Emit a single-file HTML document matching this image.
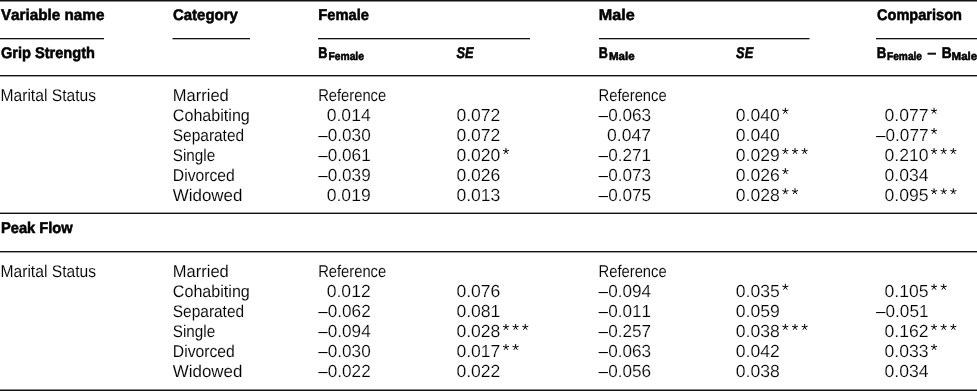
<!DOCTYPE html>
<html><head><meta charset="utf-8"><style>
html,body{margin:0;padding:0;background:#fff;width:977px;height:391px;overflow:hidden}
svg{display:block;will-change:transform}
text{font-family:"Liberation Sans",sans-serif;fill:#000;font-kerning:none}
.r{stroke:#fff;stroke-width:0.08px}
.n{stroke:#fff;stroke-width:0.18px}
.b{font-weight:bold;stroke:#000;stroke-width:0.55px}
.bi{font-weight:bold;font-style:italic;stroke:#000;stroke-width:0.55px}
rect{fill:#111}
</style></head><body>
<svg width="977" height="391" viewBox="0 0 977 391" shape-rendering="geometricPrecision" text-rendering="geometricPrecision">
<rect x="0" y="0" width="977" height="1.5"/>
<rect x="0" y="38" width="104" height="1.3"/>
<rect x="172.5" y="38" width="77.5" height="1.3"/>
<rect x="318" y="38" width="212" height="1.3"/>
<rect x="599" y="38" width="210.5" height="1.3"/>
<rect x="876" y="38" width="101" height="1.3"/>
<rect x="0" y="75" width="977" height="1.4"/>
<rect x="0" y="212.6" width="977" height="1.4"/>
<rect x="0" y="251" width="977" height="1.4"/>
<rect x="0" y="389.5" width="977" height="1.5"/>
<rect x="927.5" y="52.7" width="8.5" height="2.0"/>
<g fill="none" stroke="#000" stroke-width="1.0" stroke-linecap="round">
<path transform="translate(785.35 111.02)" d="M0 0L0.00 -2.80 M0 0L2.66 -0.87 M0 0L1.65 2.27 M0 0L-1.65 2.27 M0 0L-2.66 -0.87"/>
<path transform="translate(934.05 111.02)" d="M0 0L0.00 -2.80 M0 0L2.66 -0.87 M0 0L1.65 2.27 M0 0L-1.65 2.27 M0 0L-2.66 -0.87"/>
<path transform="translate(934.05 131.14)" d="M0 0L0.00 -2.80 M0 0L2.66 -0.87 M0 0L1.65 2.27 M0 0L-1.65 2.27 M0 0L-2.66 -0.87"/>
<path transform="translate(505.95 151.26)" d="M0 0L0.00 -2.80 M0 0L2.66 -0.87 M0 0L1.65 2.27 M0 0L-1.65 2.27 M0 0L-2.66 -0.87"/>
<path transform="translate(785.35 151.26)" d="M0 0L0.00 -2.80 M0 0L2.66 -0.87 M0 0L1.65 2.27 M0 0L-1.65 2.27 M0 0L-2.66 -0.87"/>
<path transform="translate(795.00 151.26)" d="M0 0L0.00 -2.80 M0 0L2.66 -0.87 M0 0L1.65 2.27 M0 0L-1.65 2.27 M0 0L-2.66 -0.87"/>
<path transform="translate(804.65 151.26)" d="M0 0L0.00 -2.80 M0 0L2.66 -0.87 M0 0L1.65 2.27 M0 0L-1.65 2.27 M0 0L-2.66 -0.87"/>
<path transform="translate(934.05 151.26)" d="M0 0L0.00 -2.80 M0 0L2.66 -0.87 M0 0L1.65 2.27 M0 0L-1.65 2.27 M0 0L-2.66 -0.87"/>
<path transform="translate(943.70 151.26)" d="M0 0L0.00 -2.80 M0 0L2.66 -0.87 M0 0L1.65 2.27 M0 0L-1.65 2.27 M0 0L-2.66 -0.87"/>
<path transform="translate(953.35 151.26)" d="M0 0L0.00 -2.80 M0 0L2.66 -0.87 M0 0L1.65 2.27 M0 0L-1.65 2.27 M0 0L-2.66 -0.87"/>
<path transform="translate(785.35 171.38)" d="M0 0L0.00 -2.80 M0 0L2.66 -0.87 M0 0L1.65 2.27 M0 0L-1.65 2.27 M0 0L-2.66 -0.87"/>
<path transform="translate(785.35 191.50)" d="M0 0L0.00 -2.80 M0 0L2.66 -0.87 M0 0L1.65 2.27 M0 0L-1.65 2.27 M0 0L-2.66 -0.87"/>
<path transform="translate(795.00 191.50)" d="M0 0L0.00 -2.80 M0 0L2.66 -0.87 M0 0L1.65 2.27 M0 0L-1.65 2.27 M0 0L-2.66 -0.87"/>
<path transform="translate(934.05 191.50)" d="M0 0L0.00 -2.80 M0 0L2.66 -0.87 M0 0L1.65 2.27 M0 0L-1.65 2.27 M0 0L-2.66 -0.87"/>
<path transform="translate(943.70 191.50)" d="M0 0L0.00 -2.80 M0 0L2.66 -0.87 M0 0L1.65 2.27 M0 0L-1.65 2.27 M0 0L-2.66 -0.87"/>
<path transform="translate(953.35 191.50)" d="M0 0L0.00 -2.80 M0 0L2.66 -0.87 M0 0L1.65 2.27 M0 0L-1.65 2.27 M0 0L-2.66 -0.87"/>
<path transform="translate(785.35 287.06)" d="M0 0L0.00 -2.80 M0 0L2.66 -0.87 M0 0L1.65 2.27 M0 0L-1.65 2.27 M0 0L-2.66 -0.87"/>
<path transform="translate(934.05 287.06)" d="M0 0L0.00 -2.80 M0 0L2.66 -0.87 M0 0L1.65 2.27 M0 0L-1.65 2.27 M0 0L-2.66 -0.87"/>
<path transform="translate(943.70 287.06)" d="M0 0L0.00 -2.80 M0 0L2.66 -0.87 M0 0L1.65 2.27 M0 0L-1.65 2.27 M0 0L-2.66 -0.87"/>
<path transform="translate(505.95 327.18)" d="M0 0L0.00 -2.80 M0 0L2.66 -0.87 M0 0L1.65 2.27 M0 0L-1.65 2.27 M0 0L-2.66 -0.87"/>
<path transform="translate(515.60 327.18)" d="M0 0L0.00 -2.80 M0 0L2.66 -0.87 M0 0L1.65 2.27 M0 0L-1.65 2.27 M0 0L-2.66 -0.87"/>
<path transform="translate(525.25 327.18)" d="M0 0L0.00 -2.80 M0 0L2.66 -0.87 M0 0L1.65 2.27 M0 0L-1.65 2.27 M0 0L-2.66 -0.87"/>
<path transform="translate(785.35 327.18)" d="M0 0L0.00 -2.80 M0 0L2.66 -0.87 M0 0L1.65 2.27 M0 0L-1.65 2.27 M0 0L-2.66 -0.87"/>
<path transform="translate(795.00 327.18)" d="M0 0L0.00 -2.80 M0 0L2.66 -0.87 M0 0L1.65 2.27 M0 0L-1.65 2.27 M0 0L-2.66 -0.87"/>
<path transform="translate(804.65 327.18)" d="M0 0L0.00 -2.80 M0 0L2.66 -0.87 M0 0L1.65 2.27 M0 0L-1.65 2.27 M0 0L-2.66 -0.87"/>
<path transform="translate(934.05 327.18)" d="M0 0L0.00 -2.80 M0 0L2.66 -0.87 M0 0L1.65 2.27 M0 0L-1.65 2.27 M0 0L-2.66 -0.87"/>
<path transform="translate(943.70 327.18)" d="M0 0L0.00 -2.80 M0 0L2.66 -0.87 M0 0L1.65 2.27 M0 0L-1.65 2.27 M0 0L-2.66 -0.87"/>
<path transform="translate(953.35 327.18)" d="M0 0L0.00 -2.80 M0 0L2.66 -0.87 M0 0L1.65 2.27 M0 0L-1.65 2.27 M0 0L-2.66 -0.87"/>
<path transform="translate(505.95 347.24)" d="M0 0L0.00 -2.80 M0 0L2.66 -0.87 M0 0L1.65 2.27 M0 0L-1.65 2.27 M0 0L-2.66 -0.87"/>
<path transform="translate(515.60 347.24)" d="M0 0L0.00 -2.80 M0 0L2.66 -0.87 M0 0L1.65 2.27 M0 0L-1.65 2.27 M0 0L-2.66 -0.87"/>
<path transform="translate(934.05 347.24)" d="M0 0L0.00 -2.80 M0 0L2.66 -0.87 M0 0L1.65 2.27 M0 0L-1.65 2.27 M0 0L-2.66 -0.87"/>
</g>
<text class="b" x="0.90" y="20.00" font-size="15.5" textLength="103.50" lengthAdjust="spacingAndGlyphs">Variable name</text>
<text class="b" x="172.90" y="20.00" font-size="15.5" textLength="64.99" lengthAdjust="spacingAndGlyphs">Category</text>
<text class="b" x="318.30" y="20.00" font-size="15.5" textLength="50.70" lengthAdjust="spacingAndGlyphs">Female</text>
<text class="b" x="598.80" y="20.00" font-size="15.5" textLength="36.00" lengthAdjust="spacingAndGlyphs">Male</text>
<text class="b" x="877.00" y="20.00" font-size="15.5" textLength="85.00" lengthAdjust="spacingAndGlyphs">Comparison</text>
<text class="b" x="0.90" y="57.60" font-size="15.5" textLength="94.01" lengthAdjust="spacingAndGlyphs">Grip Strength</text>
<text class="b" x="318.30" y="57.60" font-size="15.5" textLength="9.20" lengthAdjust="spacingAndGlyphs">B</text>
<text class="b" x="328.40" y="60.20" font-size="11.4" textLength="35.60" lengthAdjust="spacingAndGlyphs">Female</text>
<text class="bi" x="456.50" y="57.60" font-size="15.5" textLength="17.18" lengthAdjust="spacingAndGlyphs">SE</text>
<text class="b" x="598.80" y="57.60" font-size="15.5" textLength="9.10" lengthAdjust="spacingAndGlyphs">B</text>
<text class="b" x="609.00" y="60.20" font-size="11.4" textLength="25.60" lengthAdjust="spacingAndGlyphs">Male</text>
<text class="bi" x="736.10" y="57.60" font-size="15.5" textLength="17.18" lengthAdjust="spacingAndGlyphs">SE</text>
<text class="b" x="876.80" y="57.60" font-size="15.5" textLength="9.60" lengthAdjust="spacingAndGlyphs">B</text>
<text class="b" x="887.00" y="60.20" font-size="11.4" textLength="35.00" lengthAdjust="spacingAndGlyphs">Female</text>
<text class="b" x="941.70" y="57.60" font-size="15.5" textLength="9.90" lengthAdjust="spacingAndGlyphs">B</text>
<text class="b" x="951.60" y="60.20" font-size="11.4" textLength="25.60" lengthAdjust="spacingAndGlyphs">Male</text>
<text class="b" x="1.00" y="233.40" font-size="15.5" textLength="71.67" lengthAdjust="spacingAndGlyphs">Peak Flow</text>
<text class="r" x="0.50" y="100.60" font-size="17.0" textLength="95.50" lengthAdjust="spacingAndGlyphs">Marital Status</text>
<text class="r" x="172.80" y="100.60" font-size="17.0" textLength="55.99" lengthAdjust="spacingAndGlyphs">Married</text>
<text class="r" x="318.20" y="100.60" font-size="17.0" textLength="68.00" lengthAdjust="spacingAndGlyphs">Reference</text>
<text class="r" x="598.60" y="100.60" font-size="17.0" textLength="68.00" lengthAdjust="spacingAndGlyphs">Reference</text>
<text class="r" x="172.80" y="120.72" font-size="17.0" textLength="77.00" lengthAdjust="spacingAndGlyphs">Cohabiting</text>
<text class="n" x="326.70" y="120.72" font-size="17.5" textLength="44.01" lengthAdjust="spacingAndGlyphs">0.014</text>
<text class="n" x="456.40" y="120.72" font-size="17.5" textLength="44.01" lengthAdjust="spacingAndGlyphs">0.072</text>
<text class="n" x="598.60" y="120.72" font-size="17.5" textLength="52.49" lengthAdjust="spacingAndGlyphs">–0.063</text>
<text class="n" x="735.80" y="120.72" font-size="17.5" textLength="44.01" lengthAdjust="spacingAndGlyphs">0.040</text>
<text class="n" x="884.50" y="120.72" font-size="17.5" textLength="44.01" lengthAdjust="spacingAndGlyphs">0.077</text>
<text class="r" x="172.80" y="140.84" font-size="17.0" textLength="71.30" lengthAdjust="spacingAndGlyphs">Separated</text>
<text class="n" x="318.20" y="140.84" font-size="17.5" textLength="52.49" lengthAdjust="spacingAndGlyphs">–0.030</text>
<text class="n" x="456.40" y="140.84" font-size="17.5" textLength="44.01" lengthAdjust="spacingAndGlyphs">0.072</text>
<text class="n" x="607.10" y="140.84" font-size="17.5" textLength="44.01" lengthAdjust="spacingAndGlyphs">0.047</text>
<text class="n" x="735.80" y="140.84" font-size="17.5" textLength="44.01" lengthAdjust="spacingAndGlyphs">0.040</text>
<text class="n" x="876.00" y="140.84" font-size="17.5" textLength="52.49" lengthAdjust="spacingAndGlyphs">–0.077</text>
<text class="r" x="172.80" y="160.96" font-size="17.0" textLength="42.40" lengthAdjust="spacingAndGlyphs">Single</text>
<text class="n" x="318.20" y="160.96" font-size="17.5" textLength="52.49" lengthAdjust="spacingAndGlyphs">–0.061</text>
<text class="n" x="456.40" y="160.96" font-size="17.5" textLength="44.01" lengthAdjust="spacingAndGlyphs">0.020</text>
<text class="n" x="598.60" y="160.96" font-size="17.5" textLength="52.49" lengthAdjust="spacingAndGlyphs">–0.271</text>
<text class="n" x="735.80" y="160.96" font-size="17.5" textLength="44.01" lengthAdjust="spacingAndGlyphs">0.029</text>
<text class="n" x="884.50" y="160.96" font-size="17.5" textLength="44.01" lengthAdjust="spacingAndGlyphs">0.210</text>
<text class="r" x="172.80" y="181.08" font-size="17.0" textLength="62.00" lengthAdjust="spacingAndGlyphs">Divorced</text>
<text class="n" x="318.20" y="181.08" font-size="17.5" textLength="52.49" lengthAdjust="spacingAndGlyphs">–0.039</text>
<text class="n" x="456.40" y="181.08" font-size="17.5" textLength="44.01" lengthAdjust="spacingAndGlyphs">0.026</text>
<text class="n" x="598.60" y="181.08" font-size="17.5" textLength="52.49" lengthAdjust="spacingAndGlyphs">–0.073</text>
<text class="n" x="735.80" y="181.08" font-size="17.5" textLength="44.01" lengthAdjust="spacingAndGlyphs">0.026</text>
<text class="n" x="884.50" y="181.08" font-size="17.5" textLength="44.01" lengthAdjust="spacingAndGlyphs">0.034</text>
<text class="r" x="172.80" y="201.20" font-size="17.0" textLength="69.60" lengthAdjust="spacingAndGlyphs">Widowed</text>
<text class="n" x="326.70" y="201.20" font-size="17.5" textLength="44.01" lengthAdjust="spacingAndGlyphs">0.019</text>
<text class="n" x="456.40" y="201.20" font-size="17.5" textLength="44.01" lengthAdjust="spacingAndGlyphs">0.013</text>
<text class="n" x="598.60" y="201.20" font-size="17.5" textLength="52.49" lengthAdjust="spacingAndGlyphs">–0.075</text>
<text class="n" x="735.80" y="201.20" font-size="17.5" textLength="44.01" lengthAdjust="spacingAndGlyphs">0.028</text>
<text class="n" x="884.50" y="201.20" font-size="17.5" textLength="44.01" lengthAdjust="spacingAndGlyphs">0.095</text>
<text class="r" x="0.50" y="276.70" font-size="17.0" textLength="95.50" lengthAdjust="spacingAndGlyphs">Marital Status</text>
<text class="r" x="172.80" y="276.70" font-size="17.0" textLength="55.99" lengthAdjust="spacingAndGlyphs">Married</text>
<text class="r" x="318.20" y="276.70" font-size="17.0" textLength="68.00" lengthAdjust="spacingAndGlyphs">Reference</text>
<text class="r" x="598.60" y="276.70" font-size="17.0" textLength="68.00" lengthAdjust="spacingAndGlyphs">Reference</text>
<text class="r" x="172.80" y="296.76" font-size="17.0" textLength="77.00" lengthAdjust="spacingAndGlyphs">Cohabiting</text>
<text class="n" x="326.70" y="296.76" font-size="17.5" textLength="44.01" lengthAdjust="spacingAndGlyphs">0.012</text>
<text class="n" x="456.40" y="296.76" font-size="17.5" textLength="44.01" lengthAdjust="spacingAndGlyphs">0.076</text>
<text class="n" x="598.60" y="296.76" font-size="17.5" textLength="52.49" lengthAdjust="spacingAndGlyphs">–0.094</text>
<text class="n" x="735.80" y="296.76" font-size="17.5" textLength="44.01" lengthAdjust="spacingAndGlyphs">0.035</text>
<text class="n" x="884.50" y="296.76" font-size="17.5" textLength="44.01" lengthAdjust="spacingAndGlyphs">0.105</text>
<text class="r" x="172.80" y="316.82" font-size="17.0" textLength="71.30" lengthAdjust="spacingAndGlyphs">Separated</text>
<text class="n" x="318.20" y="316.82" font-size="17.5" textLength="52.49" lengthAdjust="spacingAndGlyphs">–0.062</text>
<text class="n" x="456.40" y="316.82" font-size="17.5" textLength="44.01" lengthAdjust="spacingAndGlyphs">0.081</text>
<text class="n" x="598.60" y="316.82" font-size="17.5" textLength="52.51" lengthAdjust="spacingAndGlyphs">–0.011</text>
<text class="n" x="735.80" y="316.82" font-size="17.5" textLength="44.01" lengthAdjust="spacingAndGlyphs">0.059</text>
<text class="n" x="876.00" y="316.82" font-size="17.5" textLength="52.49" lengthAdjust="spacingAndGlyphs">–0.051</text>
<text class="r" x="172.80" y="336.88" font-size="17.0" textLength="42.40" lengthAdjust="spacingAndGlyphs">Single</text>
<text class="n" x="318.20" y="336.88" font-size="17.5" textLength="52.49" lengthAdjust="spacingAndGlyphs">–0.094</text>
<text class="n" x="456.40" y="336.88" font-size="17.5" textLength="44.01" lengthAdjust="spacingAndGlyphs">0.028</text>
<text class="n" x="598.60" y="336.88" font-size="17.5" textLength="52.49" lengthAdjust="spacingAndGlyphs">–0.257</text>
<text class="n" x="735.80" y="336.88" font-size="17.5" textLength="44.01" lengthAdjust="spacingAndGlyphs">0.038</text>
<text class="n" x="884.50" y="336.88" font-size="17.5" textLength="44.01" lengthAdjust="spacingAndGlyphs">0.162</text>
<text class="r" x="172.80" y="356.94" font-size="17.0" textLength="62.00" lengthAdjust="spacingAndGlyphs">Divorced</text>
<text class="n" x="318.20" y="356.94" font-size="17.5" textLength="52.49" lengthAdjust="spacingAndGlyphs">–0.030</text>
<text class="n" x="456.40" y="356.94" font-size="17.5" textLength="44.01" lengthAdjust="spacingAndGlyphs">0.017</text>
<text class="n" x="598.60" y="356.94" font-size="17.5" textLength="52.49" lengthAdjust="spacingAndGlyphs">–0.063</text>
<text class="n" x="735.80" y="356.94" font-size="17.5" textLength="44.01" lengthAdjust="spacingAndGlyphs">0.042</text>
<text class="n" x="884.50" y="356.94" font-size="17.5" textLength="44.01" lengthAdjust="spacingAndGlyphs">0.033</text>
<text class="r" x="172.80" y="377.00" font-size="17.0" textLength="69.60" lengthAdjust="spacingAndGlyphs">Widowed</text>
<text class="n" x="318.20" y="377.00" font-size="17.5" textLength="52.49" lengthAdjust="spacingAndGlyphs">–0.022</text>
<text class="n" x="456.40" y="377.00" font-size="17.5" textLength="44.01" lengthAdjust="spacingAndGlyphs">0.022</text>
<text class="n" x="598.60" y="377.00" font-size="17.5" textLength="52.49" lengthAdjust="spacingAndGlyphs">–0.056</text>
<text class="n" x="735.80" y="377.00" font-size="17.5" textLength="44.01" lengthAdjust="spacingAndGlyphs">0.038</text>
<text class="n" x="884.50" y="377.00" font-size="17.5" textLength="44.01" lengthAdjust="spacingAndGlyphs">0.034</text>
</svg>
</body></html>
